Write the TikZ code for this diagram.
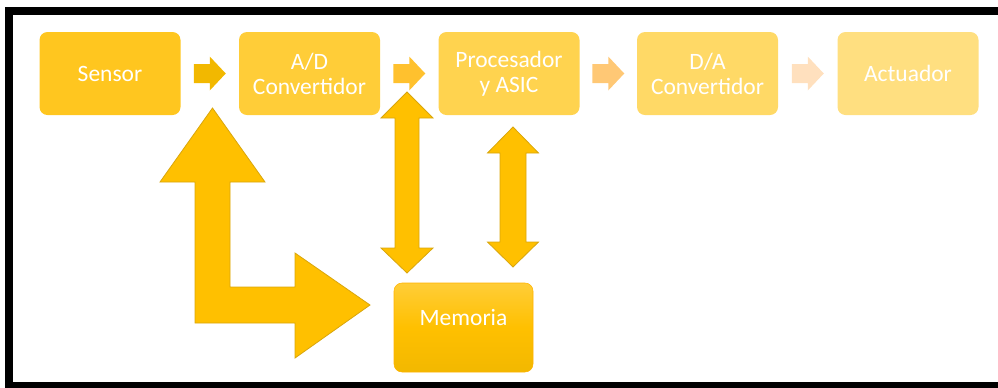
\documentclass[tikz,border=0pt]{standalone}
\usepackage{fontspec}
\setmainfont{Carlito}
\usetikzlibrary{calc}
\definecolor{cajaA}{HTML}{FFC61F}
\definecolor{cajaB}{HTML}{FFCD38}
\definecolor{cajaC}{HTML}{FFD34F}
\definecolor{cajaD}{HTML}{FFD966}
\definecolor{cajaE}{HTML}{FFDF80}
\definecolor{flechaA}{HTML}{F2B800}
\definecolor{flechaB}{HTML}{FFC12E}
\definecolor{flechaC}{HTML}{FFC875}
\definecolor{flechaD}{HTML}{FFE0BE}
\definecolor{oro}{HTML}{FFC000}
\definecolor{borde}{HTML}{D9A60C}

\begin{document}
\begin{tikzpicture}[x=0.75pt, y=-0.75pt]
    \tikzset{bloque/.style = {shape=rectangle, rounded corners=6pt, minimum width=105.75pt, minimum height=62.25pt,
                              inner sep=0pt, outer sep=0pt, align=center, text=white,
                              font=\fontsize{17.6}{18.8}\selectfont}}
    \tikzset{grande/.style = {fill=oro, draw=borde, line width=0.6pt, line join=miter}}
    \tikzset{flechita/.pic = {\path[pic actions] (-16,-9.5) -- (0,-9.5) -- (0,-17) -- (16,0) -- (0,17) -- (0,9.5) -- (-16,9.5) -- cycle;}}

    \useasboundingbox (0,0) rectangle (998,387);
    \clip (0,0) rectangle (998,387);

    % marco
    \draw[line width=6.4pt] (9,11) rectangle (1010,386.5);

    % bloques
    \node[bloque, fill=cajaA] (sensor) at (110,73.5)   {Sensor};
    \node[bloque, fill=cajaB] (ad)     at (309.5,73.5) {A/D\\Convertidor};
    \node[bloque, fill=cajaC] (proc)   at (509,73.5)   {Procesador\\y ASIC};
    \node[bloque, fill=cajaD] (da)     at (707.5,73.5) {D/A\\Convertidor};
    \node[bloque, fill=cajaE] (act)    at (908,73.5)   {Actuador};

    % flechas pequenas
    \pic[fill=flechaA] at ($(sensor.east)!0.5!(ad.west)$) {flechita};
    \pic[fill=flechaB] at ($(ad.east)!0.5!(proc.west)$)   {flechita};
    \pic[fill=flechaC] at ($(proc.east)!0.5!(da.west)$)   {flechita};
    \pic[fill=flechaD] at ($(da.east)!0.5!(act.west)$)    {flechita};

    % flecha doblada
    \path[grande] (195,323) -- (195,182) -- (160,182) -- (212.5,108) -- (265,182) -- (230,182)
        -- (230,287) -- (295,287) -- (295,253) -- (370,305) -- (295,358) -- (295,323) -- cycle;

    % flechas dobles
    \path[grande] (407,92) -- (433,118) -- (419,118) -- (419,248) -- (433,248) -- (407,273)
        -- (381,248) -- (395,248) -- (395,118) -- (381,118) -- cycle;
    \path[grande] (513,127) -- (538.5,153) -- (526,153) -- (526,242) -- (538.5,242) -- (513,267)
        -- (487.5,242) -- (500,242) -- (500,153) -- (487.5,153) -- cycle;

    % memoria
    \node[bloque, minimum width=104.25pt, minimum height=66.75pt, text depth=15pt,
          top color=cajaB, bottom color=flechaA, middle color=oro, draw=oro!80!orange]
          (mem) at (463.5,327.5) {Memoria};
\end{tikzpicture}
\end{document}
